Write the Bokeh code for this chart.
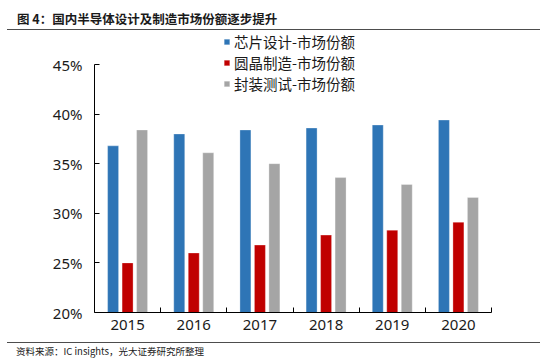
from bokeh.plotting import figure
from bokeh.layouts import column
from bokeh.models import (ColumnDataSource, Range1d, FixedTicker, PrintfTickFormatter,
                          Legend, LegendItem, Div)
from bokeh.transform import dodge
from bokeh.embed import file_html
from bokeh.resources import INLINE

years = ["2015", "2016", "2017", "2018", "2019", "2020"]
design = [36.8, 38.0, 38.4, 38.6, 38.9, 39.4]
wafer = [25.0, 26.0, 26.8, 27.8, 28.3, 29.1]
packaging = [38.4, 36.1, 35.0, 33.6, 32.9, 31.6]
y_ticks = [20, 25, 30, 35, 40, 45]
series_labels = ["芯片设计-市场份额", "圆晶制造-市场份额", "封装测试-市场份额"]
title_text = "图 4：国内半导体设计及制造市场份额逐步提升"
source_text = "资料来源：IC insights，光大证券研究所整理"

colors = ["#2E75B6", "#C00000", "#A5A5A5"]
CJK = "Noto Sans CJK SC"
NUM = "Noto Sans"
RULE = "#4d4d4d"

# ---- header ----
title_div = Div(
    text=(f'<div style="box-sizing:border-box;width:533px;height:30px;'
          f'border-bottom:1.5px solid {RULE};padding:11px 0 0 10px;line-height:15px;'
          f"font-family:'{CJK}';font-size:12.5px;font-weight:bold;color:#1a1a1a;"
          f'white-space:nowrap;">{title_text}</div>'),
    width=533, height=30, margin=(0, 0, 0, 7))

# ---- chart ----
xc = [i + 0.5 for i in range(len(years))]
src = ColumnDataSource(dict(xc=xc, design=design, wafer=wafer, packaging=packaging))

y_top = y_ticks[-1] + 34 * (y_ticks[-1] - y_ticks[0]) / 248  # headroom for the legend
p = figure(width=550, height=311, output_backend="svg", toolbar_location=None,
           title=None, x_range=Range1d(0, len(years)), y_range=Range1d(y_ticks[0], y_top),
           min_border_left=94, min_border_right=59, min_border_top=0, min_border_bottom=29)
p.background_fill_color = "white"
p.border_fill_color = "white"
p.outline_line_color = None
p.grid.visible = False

bw = 0.166
off = 0.219
renderers = []
for field, o, c in zip(["design", "wafer", "packaging"], [-off, 0, off], colors):
    r = p.vbar(x=dodge("xc", o, range=p.x_range), top=field, bottom=y_ticks[0], width=bw,
               source=src, fill_color=c, line_color="white", line_width=0.6, line_alpha=0.5)
    renderers.append(r)

ya = p.yaxis[0]
ya.ticker = FixedTicker(ticks=y_ticks)
ya.bounds = (y_ticks[0], y_ticks[-1])
ya.formatter = PrintfTickFormatter(format="%d%%")
ya.major_tick_in = 5
ya.major_tick_out = 0
ya.minor_tick_in = 0
ya.minor_tick_out = 0
ya.axis_line_color = "black"
ya.major_tick_line_color = "black"
ya.major_label_standoff = 12
ya.major_label_text_font = NUM
ya.major_label_text_font_size = "15px"
ya.major_label_text_color = "#1a1a1a"

xa = p.xaxis[0]
xa.ticker = FixedTicker(ticks=xc, minor_ticks=list(range(1, len(years) + 1)))
xa.major_label_overrides = {x: y for x, y in zip(xc, years)}
xa.major_tick_in = 0
xa.major_tick_out = 0
xa.minor_tick_in = 5
xa.minor_tick_out = 0
xa.minor_tick_line_color = "black"
xa.axis_line_color = "black"
xa.major_label_standoff = 7
xa.major_label_text_font = NUM
xa.major_label_text_font_size = "15px"
xa.major_label_text_color = "#1a1a1a"

legend = Legend(items=[LegendItem(label=l, renderers=[r]) for l, r in zip(series_labels, renderers)],
                location=(129, 218), orientation="vertical",
                glyph_width=7, glyph_height=7, label_standoff=4, label_height=19,
                spacing=0, padding=0, margin=0,
                label_text_font=CJK, label_text_font_size="14.5px", label_text_color="#1a1a1a",
                border_line_color=None, background_fill_alpha=0)
p.add_layout(legend, "center")

# ---- footer ----
footer_div = Div(
    text=(f'<div style="box-sizing:border-box;width:533px;margin-top:1px;'
          f'border-top:1.5px solid {RULE};padding:2px 0 0 9px;line-height:12px;'
          f"font-family:'{CJK}';font-size:9.5px;color:#1a1a1a;"
          f'white-space:nowrap;">{source_text}</div>'),
    width=533, height=23, margin=(0, 0, 0, 7))

layout = column(title_div, p, footer_div, spacing=0)
open("out.html", "w").write(file_html(layout, INLINE))
